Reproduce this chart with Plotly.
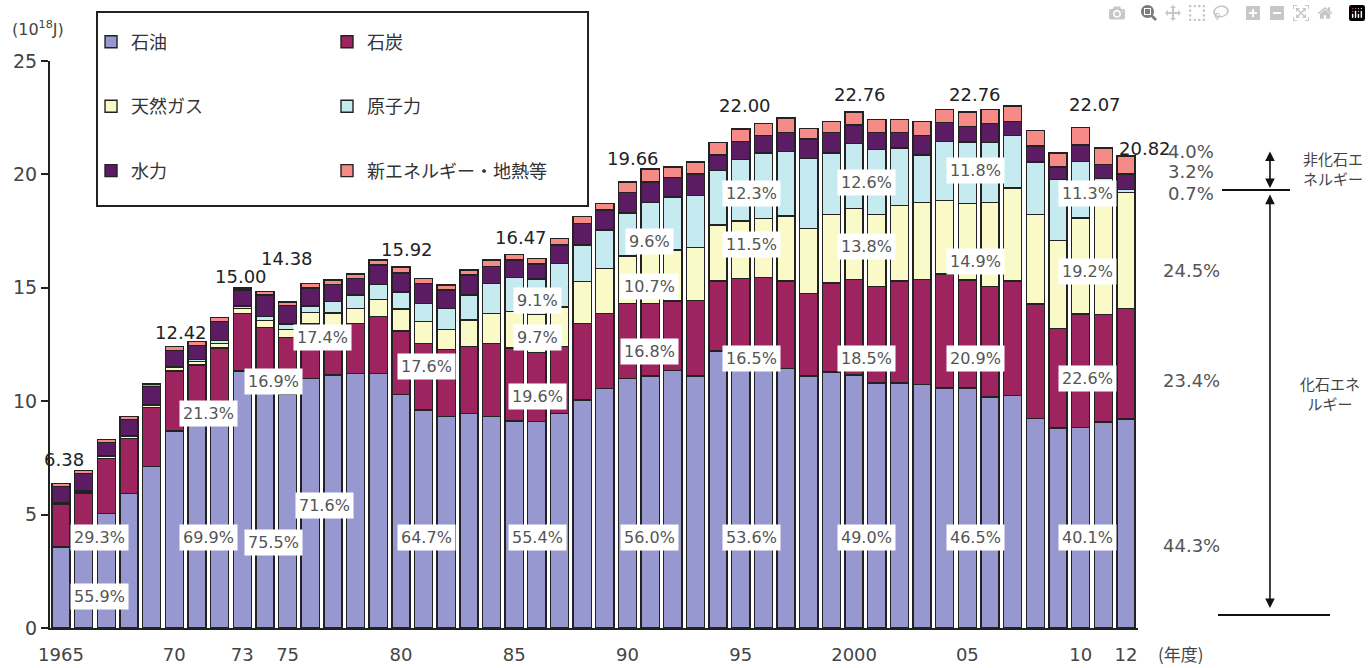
import plotly.graph_objects as go

# ---------------- data (10^18 J) ----------------
years = list(range(1965, 2013))

oil = [3.57, 4.06, 5.06, 5.94, 7.11, 8.68, 8.95, 9.95, 11.33, 11.00,
       10.30, 11.00, 11.16, 11.23, 11.23, 10.30, 9.61, 9.32, 9.47, 9.32,
       9.12, 9.10, 9.45, 10.05, 10.57, 11.01, 11.12, 11.36, 11.12, 12.21,
       11.79, 11.82, 11.43, 11.12, 11.28, 11.15, 10.81, 10.81, 10.74, 10.59,
       10.58, 10.19, 10.25, 9.24, 8.81, 8.85, 9.08, 9.22]
coal = [1.87, 1.90, 2.42, 2.42, 2.60, 2.65, 2.65, 2.40, 2.54, 2.25,
        2.50, 2.40, 2.13, 2.20, 2.50, 2.80, 2.94, 2.95, 2.93, 3.23,
        3.23, 3.05, 2.95, 3.38, 3.31, 3.30, 3.20, 3.05, 3.33, 3.09,
        3.63, 3.63, 3.87, 3.64, 3.94, 4.21, 4.26, 4.49, 4.63, 5.02,
        4.76, 4.88, 5.05, 5.05, 4.40, 4.99, 4.75, 4.87]
gas = [0.08, 0.08, 0.09, 0.10, 0.13, 0.15, 0.15, 0.20, 0.23, 0.30,
       0.36, 0.50, 0.60, 0.67, 0.75, 0.97, 0.96, 0.90, 1.18, 1.33,
       1.60, 1.68, 1.75, 1.84, 1.98, 2.10, 2.20, 2.25, 2.32, 2.47,
       2.53, 2.60, 2.86, 2.86, 3.02, 3.14, 3.17, 3.32, 3.40, 3.25,
       3.39, 3.70, 4.10, 3.95, 3.87, 4.24, 5.00, 5.10]
nuclear = [0.00, 0.01, 0.01, 0.02, 0.02, 0.04, 0.09, 0.12, 0.09, 0.18,
           0.25, 0.30, 0.50, 0.58, 0.66, 0.75, 0.81, 0.93, 1.10, 1.32,
           1.50, 1.55, 1.93, 1.62, 1.69, 1.89, 2.25, 2.34, 2.31, 2.40,
           2.71, 2.89, 2.86, 3.09, 2.70, 2.87, 2.85, 2.55, 2.09, 2.60,
           2.69, 2.63, 2.31, 2.31, 2.70, 2.49, 1.00, 0.15]
hydro = [0.72, 0.75, 0.60, 0.72, 0.78, 0.72, 0.62, 0.85, 0.72, 0.95,
         0.80, 0.80, 0.75, 0.72, 0.86, 0.83, 0.88, 0.80, 0.88, 0.73,
         0.77, 0.67, 0.80, 0.95, 0.88, 0.90, 0.90, 0.86, 0.93, 0.69,
         0.80, 0.77, 0.84, 0.85, 0.92, 0.80, 0.77, 0.69, 0.85, 0.82,
         0.68, 0.85, 0.62, 0.70, 0.54, 0.73, 0.60, 0.67]
new_energy = [0.14, 0.14, 0.14, 0.12, 0.12, 0.18, 0.17, 0.18, 0.09, 0.15,
              0.17, 0.20, 0.20, 0.20, 0.23, 0.27, 0.22, 0.22, 0.22, 0.30,
              0.25, 0.25, 0.30, 0.30, 0.30, 0.46, 0.57, 0.46, 0.54, 0.54,
              0.54, 0.54, 0.63, 0.46, 0.47, 0.59, 0.56, 0.56, 0.62, 0.59,
              0.66, 0.62, 0.69, 0.69, 0.62, 0.77, 0.74, 0.81]

series_names = ["石油", "石炭", "天然ガス", "原子力", "水力", "新エネルギー・地熱等"]

# total labels
total_years = [1965, 1970, 1973, 1975, 1980, 1985, 1990, 1995, 2000, 2005, 2010]
total_texts = ["6.38", "12.42", "15.00", "14.38", "15.92", "16.47", "19.66",
               "22.00", "22.76", "22.76", "22.07"]
last_total_text = "20.82"

# share labels
share_texts = ["55.9%", "29.3%", "69.9%", "21.3%", "75.5%", "16.9%", "71.6%", "17.4%",
               "64.7%", "17.6%", "55.4%", "19.6%", "9.7%", "9.1%",
               "56.0%", "16.8%", "10.7%", "9.6%", "53.6%", "16.5%", "11.5%", "12.3%",
               "49.0%", "18.5%", "13.8%", "12.6%", "46.5%", "20.9%", "14.9%", "11.8%",
               "40.1%", "22.6%", "19.2%", "11.3%"]
right_share_texts = ["4.0%", "3.2%", "0.7%", "24.5%", "23.4%", "44.3%"]

x_ticks = [1965, 1970, 1973, 1975, 1980, 1985, 1990, 1995, 2000, 2005, 2010, 2012]
x_ticktext = ["1965", "70", "73", "75", "80", "85", "90", "95", "2000", "05", "10", "12"]

# ---------------- layout positions ----------------
share_x = [1966.72, 1966.72, 1971.49, 1971.49, 1974.36, 1974.36, 1976.61, 1976.52,
           1981.15, 1981.15, 1986.05, 1986.05, 1986.01, 1986.05,
           1990.99, 1990.99, 1990.99, 1990.99, 1995.49, 1995.49, 1995.49, 1995.49,
           2000.57, 2000.57, 2000.57, 2000.57, 2005.34, 2005.34, 2005.34, 2005.34,
           2010.28, 2010.28, 2010.28, 2010.28]
share_y = [1.37, 4.01, 4.01, 9.44, 3.75, 10.89, 5.42, 12.83,
           4.01, 11.55, 4.01, 10.19, 12.83, 14.46,
           4.01, 12.17, 15.04, 17.02, 4.01, 11.90, 16.89, 19.18,
           4.01, 11.90, 16.84, 19.66, 4.01, 11.90, 16.18, 20.19,
           4.01, 10.98, 15.70, 19.18]
total_x = [1965.13, 1970.30, 1972.94, 1974.97, 1980.27, 1985.30, 1990.24,
           1995.19, 2000.26, 2005.34, 2010.63]
total_y = [7.41, 13.01, 15.48, 16.31, 16.67, 17.24, 20.72, 23.02, 23.54, 23.54, 23.10]
right_y = [21.02, 20.11, 19.14, 15.78, 10.93, 3.62]

colors = ["#9898d0", "#9e2460", "#fafac8", "#c5eaf0", "#5c1c64", "#f58a86"]
legends = ["legend", "legend2", "legend", "legend2", "legend", "legend2"]
values = [oil, coal, gas, nuclear, hydro, new_energy]

FONT = "DejaVu Sans, Noto Sans CJK JP, sans-serif"
JP = "Noto Sans CJK JP, sans-serif"

fig = go.Figure()
for name, vals, col, lg in zip(series_names, values, colors, legends):
    fig.add_trace(go.Bar(
        x=years, y=vals, name=name, legend=lg, legendgroup=name,
        marker=dict(color=col, line=dict(color="#222222", width=1.4)),
        hoverinfo="x+y+name",
    ))

annotations = []
for t, x, y in zip(share_texts, share_x, share_y):
    annotations.append(dict(x=x, y=y, xref="x", yref="y", text=t, showarrow=False,
                            xanchor="center", yanchor="middle",
                            font=dict(family=FONT, size=16, color="#555555"),
                            bgcolor="white", borderpad=3))
for t, x, y in zip(total_texts, total_x, total_y):
    annotations.append(dict(x=x, y=y, xref="x", yref="y", text=t, showarrow=False,
                            xanchor="center", yanchor="middle",
                            font=dict(family=FONT, size=18, color="#222222")))
annotations.append(dict(x=(1145 - 50) / 1088, y=21.16, xref="paper", yref="y",
                        text=last_total_text, showarrow=False,
                        xanchor="center", yanchor="middle",
                        font=dict(family=FONT, size=18, color="#222222")))
for t, y in zip(right_share_texts, right_y):
    annotations.append(dict(x=(1191 - 50) / 1088, y=y, xref="paper", yref="y", text=t,
                            showarrow=False, xanchor="center", yanchor="middle",
                            font=dict(family=FONT, size=18, color="#555555")))
# arrows
annotations.append(dict(x=1.1213, y=19.4, xref="paper", yref="y", ax=0, ay=-38,
                        text="", showarrow=True, arrowhead=2, startarrowhead=2,
                        arrowside="end+start", arrowsize=1.2, arrowwidth=1.6,
                        arrowcolor="#111111"))
annotations.append(dict(x=1.1213, y=0.88, xref="paper", yref="y", ax=0, ay=-415,
                        text="", showarrow=True, arrowhead=2, startarrowhead=2,
                        arrowside="end+start", arrowsize=1.2, arrowwidth=1.6,
                        arrowcolor="#111111"))
annotations.append(dict(x=(1333 - 50) / 1088, y=20.28, xref="paper", yref="y",
                        text="非化石エ<br>ネルギー", showarrow=False, align="left",
                        xanchor="center", yanchor="middle",
                        font=dict(family=JP, size=15, color="#444444")))
annotations.append(dict(x=(1330 - 50) / 1088, y=10.32, xref="paper", yref="y",
                        text="化石エネ<br>ルギー", showarrow=False, align="center",
                        xanchor="center", yanchor="middle",
                        font=dict(family=JP, size=15, color="#444444")))
annotations.append(dict(x=(1181 - 50) / 1088, y=-(654 - 628) / 567, xref="paper", yref="paper",
                        text="(年度)", showarrow=False, xanchor="center", yanchor="middle",
                        font=dict(family=JP, size=17, color="#444444")))
annotations.append(dict(x=(38 - 50) / 1088, y=(628 - 28) / 567, xref="paper", yref="paper",
                        text="(10<sup>18</sup>J)", showarrow=False,
                        xanchor="center", yanchor="middle",
                        font=dict(family=FONT, size=16, color="#444444")))

shapes = [
    dict(type="rect", xref="paper", yref="paper", x0=0.0432, x1=0.4945, y0=0.7443, y1=1.0864,
         line=dict(color="#222222", width=2), fillcolor="white", layer="below"),
    dict(type="line", xref="paper", yref="y", x0=1.0772, x1=1.1397, y0=19.31, y1=19.31,
         line=dict(color="#111111", width=2)),
    dict(type="line", xref="paper", yref="y", x0=1.0735, x1=1.1765, y0=0.57, y1=0.57,
         line=dict(color="#111111", width=2)),
]

legend_common = dict(orientation="v", xanchor="left", yanchor="top", yref="paper",
                     font=dict(family=JP, size=18, color="#333333"),
                     bgcolor="rgba(0,0,0,0)", borderwidth=0, tracegroupgap=38,
                     traceorder="grouped", itemclick=False, itemdoubleclick=False)

fig.update_layout(
    width=1371, height=668,
    margin=dict(l=50, r=233, t=61, b=40, autoexpand=False),
    barmode="stack", bargap=0.2,
    plot_bgcolor="white", paper_bgcolor="white",
    font=dict(family=FONT, color="#444444"),
    showlegend=True,
    legend=dict(x=0.0377, y=1.066, **legend_common),
    legend2=dict(x=0.2546, y=1.066, **legend_common),
    xaxis=dict(range=[1964.515, 2012.53], tickmode="array", tickvals=x_ticks,
               ticktext=x_ticktext, showgrid=False, zeroline=False, showline=True,
               linecolor="#222222", linewidth=2, ticks="", ticklabelstandoff=9,
               automargin=False,
               tickfont=dict(family=FONT, size=18, color="#444444")),
    yaxis=dict(range=[0, 25], tickvals=[0, 5, 10, 15, 20, 25], showgrid=False,
               zeroline=False, showline=True, linecolor="#222222", linewidth=2,
               ticks="outside", ticklen=7, tickwidth=2, tickcolor="#222222",
               automargin=False,
               tickfont=dict(family=FONT, size=19, color="#444444")),
    annotations=annotations,
    shapes=shapes,
)

fig.write_html("out.html",
               post_script="document.body.style.margin='0';document.body.style.overflow='hidden';")
